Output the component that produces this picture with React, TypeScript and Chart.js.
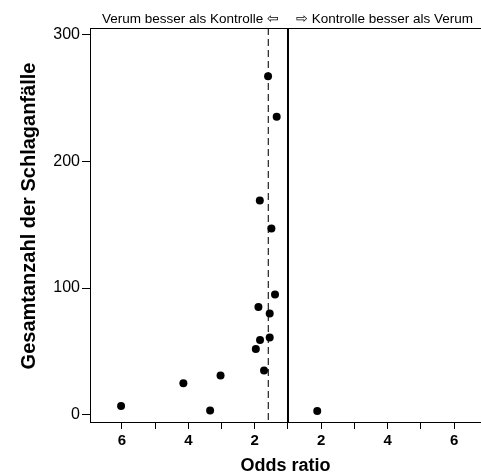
import React, { useEffect, useRef } from 'react';
import { Chart, registerables } from 'chart.js';

Chart.register(...registerables);

// Study odds ratios (OR < 1: Verum better) and total number of strokes
const studyOddsRatios = [0.625, 0.746, 0.541, 0.667, 0.719, 0.529, 0.645, 0.645, 0.543, 0.508, 0.581, 0.33, 0.241, 0.299, 0.166, 1.88];
const studyStrokeTotals = [267, 235, 169, 147, 95, 85, 80, 61, 59, 52, 35, 31, 25, 3.5, 7, 3];
const pooledOddsRatio = 0.628;

const xTickPositions = [-5, -3, -1, 1, 3, 5];
const xTickLabels = ['6', '4', '2', '2', '4', '6'];
const yTickValues = [0, 100, 200, 300];

const leftNote = 'Verum besser als Kontrolle \u21E6';
const rightNote = '\u21E8 Kontrolle besser als Verum';
const xTitle = 'Odds ratio';
const yTitle = 'Gesamtanzahl der Schlaganfälle';

const FONT = "'Liberation Sans', Arial, sans-serif";

// symmetric odds-ratio axis: OR >= 1 -> OR - 1, OR < 1 -> -(1/OR - 1)
const toAxis = (or: number) => (or >= 1 ? or - 1 : 1 - 1 / or);

export default function App() {
  const ref = useRef<HTMLCanvasElement | null>(null);

  useEffect(() => {
    if (!ref.current) return;
    const points = studyOddsRatios.map((or, i) => ({ x: toAxis(or), y: studyStrokeTotals[i] }));

    const decor = {
      id: 'decor',
      beforeDatasetsDraw(chart: any) {
        const { ctx, chartArea, scales } = chart;
        const x = scales.x;
        ctx.save();
        const x0 = x.getPixelForValue(0);
        ctx.strokeStyle = '#000';
        ctx.lineWidth = 2;
        ctx.beginPath();
        ctx.moveTo(x0, chartArea.top);
        ctx.lineTo(x0, chartArea.bottom);
        ctx.stroke();
        const xp = x.getPixelForValue(toAxis(pooledOddsRatio));
        ctx.lineWidth = 1.2;
        ctx.strokeStyle = '#222';
        ctx.setLineDash([7, 4]);
        ctx.beginPath();
        ctx.moveTo(xp, chartArea.top);
        ctx.lineTo(xp, chartArea.bottom);
        ctx.stroke();
        ctx.restore();
      },
      afterDraw(chart: any) {
        const { ctx, chartArea, scales } = chart;
        const x0 = scales.x.getPixelForValue(0);
        ctx.save();
        ctx.strokeStyle = '#000';
        ctx.lineWidth = 1;
        ctx.beginPath();
        ctx.moveTo(chartArea.left, chartArea.top + 0.5);
        ctx.lineTo(chartArea.right, chartArea.top + 0.5);
        ctx.stroke();
        ctx.fillStyle = '#000';
        ctx.font = `13.5px ${FONT}`;
        ctx.textBaseline = 'middle';
        ctx.textAlign = 'right';
        ctx.fillText(leftNote, x0 - 9, 19);
        ctx.textAlign = 'left';
        ctx.fillText(rightNote, x0 + 8, 19);
        // y axis title
        ctx.save();
        ctx.translate(29, 216);
        ctx.rotate(-Math.PI / 2);
        ctx.textAlign = 'center';
        ctx.font = `bold 20px ${FONT}`;
        ctx.fillText(yTitle, 0, 0);
        ctx.restore();
        ctx.restore();
      },
    };

    const chart = new Chart(ref.current, {
      type: 'scatter',
      data: {
        datasets: [
          {
            data: points,
            pointRadius: 4,
            pointHoverRadius: 4,
            backgroundColor: '#000',
            borderWidth: 0,
          },
        ],
      },
      options: {
        responsive: false,
        animation: false,
        events: [],
        layout: { autoPadding: false, padding: { top: 28, right: 0, bottom: 0, left: 0 } },
        plugins: { legend: { display: false }, tooltip: { enabled: false }, title: { display: false } },
        scales: {
          x: {
            type: 'linear',
            min: -5.96,
            max: 5.81,
            border: { display: true, color: '#000', width: 1 },
            grid: { drawOnChartArea: false, drawTicks: true, tickLength: 7, color: '#000' },
            ticks: {
              stepSize: 1,
              includeBounds: false,
              autoSkip: false,
              maxRotation: 0,
              padding: 3,
              color: '#000',
              font: { family: FONT, size: 15, weight: 'bold' },
              callback: (v: any) => {
                const i = xTickPositions.indexOf(Math.round(Number(v)));
                return i >= 0 ? xTickLabels[i] : '';
              },
            },
            title: {
              display: true,
              text: xTitle,
              color: '#000',
              font: { family: FONT, size: 18, weight: 'bold' },
              padding: { top: 0, bottom: -3 },
            },
            afterFit: (s: any) => {
              s.height = 52;
              s.paddingLeft = 0;
              s.paddingRight = 0;
            },
          },
          y: {
            type: 'linear',
            min: -5.6,
            max: 305,
            border: { display: true, color: '#000', width: 1 },
            grid: { drawOnChartArea: false, drawTicks: true, tickLength: 8, color: '#000' },
            afterBuildTicks: (s: any) => {
              s.ticks = yTickValues.map((v) => ({ value: v }));
            },
            ticks: {
              padding: 2,
              color: '#000',
              font: { family: FONT, size: 16 },
            },
            afterFit: (s: any) => {
              s.width = 90;
              s.paddingTop = 0;
              s.paddingBottom = 0;
            },
          },
        },
      },
      plugins: [decor],
    });
    return () => chart.destroy();
  }, []);

  return (
    <div style={{ position: 'absolute', left: 0, top: 0, width: 481, height: 474, background: '#fff' }}>
      <canvas ref={ref} width={481} height={474} style={{ display: 'block' }} />
    </div>
  );
}
